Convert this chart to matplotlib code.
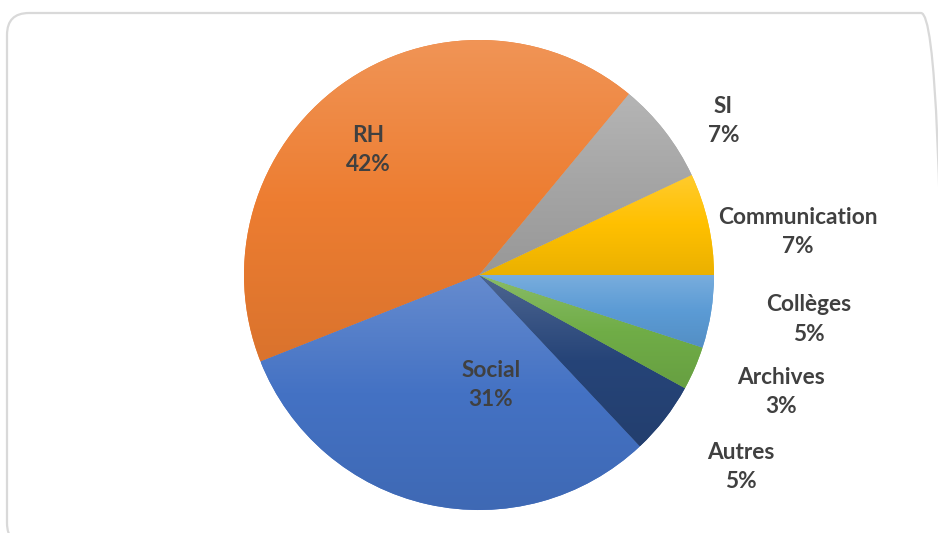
import numpy as np
import matplotlib
matplotlib.use("Agg")
import matplotlib.pyplot as plt
from matplotlib.patches import FancyBboxPatch
from matplotlib.colors import to_rgb

# ---- data ----
categories = ["Communication", "SI", "RH", "Social", "Autres", "Archives", "Collèges"]
values = [7, 7, 42, 31, 5, 3, 5]
colors = ["#FFC000", "#A5A5A5", "#ED7D31", "#4472C4", "#264478", "#70AD47", "#5B9BD5"]

# label layout (centres, in units of pie radius)
label_pos = {
    "Communication": (1.357, 0.183),
    "SI": (1.04, 0.655),
    "RH": (-0.472, 0.532),
    "Social": (0.051, -0.468),
    "Autres": (1.115, -0.817),
    "Archives": (1.285, -0.498),
    "Collèges": (1.404, -0.191),
}

W, H = 938, 533
CX, CY, R = 479, 275, 235

fig = plt.figure(figsize=(W / 100, H / 100), dpi=100)
ax = fig.add_axes([0, 0, 1, 1])
wedges, _ = ax.pie(values, colors=colors, startangle=0, counterclock=True,
                   radius=1, wedgeprops=dict(linewidth=0))
ax.set_xlim(-CX / R, (W - CX) / R)
ax.set_ylim(-(H - CY) / R, CY / R)
ax.set_aspect("auto")
ax.axis("off")


def mix(c, t, f):
    c = np.array(to_rgb(c))
    t = np.array(to_rgb(t))
    return c * (1 - f) + t * f


# gradient fill per wedge (lighter top, darker bottom)
for w, c in zip(wedges, colors):
    bb = w.get_path().get_extents(w.get_patch_transform())
    top = mix(c, "white", 0.18)
    mid = np.array(to_rgb(c))
    bot = mix(c, "black", 0.08)
    n = 256
    t = np.linspace(0, 1, n)[:, None]
    grad = np.where(t < 0.5, top * (1 - t * 2) + mid * (t * 2),
                    mid * (1 - (t - 0.5) * 2) + bot * ((t - 0.5) * 2))
    img = np.repeat(grad[:, None, :], 2, axis=1)
    im = ax.imshow(img, extent=[bb.x0, bb.x1, bb.y0, bb.y1], origin="upper",
                   aspect="auto", zorder=2, interpolation="bilinear")
    im.set_clip_path(w)

# labels
total = sum(values)
for cat, v in zip(categories, values):
    x, y = label_pos[cat]
    ax.text(x, y, f"{cat}\n{round(100 * v / total)}%", ha="center", va="center",
            fontsize=16.3, fontweight="bold", family=["Lato", "DejaVu Sans"],
            color="#404040", linespacing=1.52, zorder=5)

# outer rounded frame
x0 = (7 - CX) / R
y1 = (CY - 13) / R
x1 = (943 - CX) / R
y0 = (CY - 545) / R
frame = FancyBboxPatch((x0, y0), x1 - x0, y1 - y0,
                       boxstyle=f"round,pad=0,rounding_size={22 / R}",
                       fill=False, edgecolor="#D9D9D9", linewidth=1.6,
                       clip_on=False, zorder=1)
ax.add_patch(frame)

fig.savefig("out.png", dpi=100)
